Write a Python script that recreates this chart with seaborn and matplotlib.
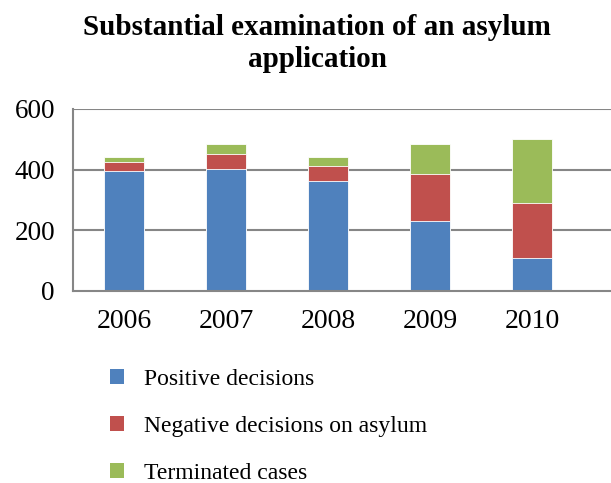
import numpy as np
import pandas as pd
import matplotlib
matplotlib.use("Agg")
import matplotlib.pyplot as plt
import seaborn as sns
from matplotlib.patches import Patch

years = ["2006", "2007", "2008", "2009", "2010"]
positive = [397, 402, 364, 232, 110]
negative = [28, 51, 48, 155, 180]
terminated = [17, 33, 30, 99, 210]

labels = ["Positive decisions", "Negative decisions on asylum", "Terminated cases"]
colors = ["#4F81BD", "#C0504D", "#9BBB59"]

sns.set_style("white")
plt.rcParams["font.family"] = ["Liberation Serif", "DejaVu Serif"]
plt.rcParams["text.color"] = "black"
plt.rcParams["xtick.labelcolor"] = "black"
plt.rcParams["ytick.labelcolor"] = "black"

df = pd.DataFrame({"year": years, "pos": positive, "neg": negative, "term": terminated})
df["pos_neg"] = df["pos"] + df["neg"]
df["total"] = df["pos_neg"] + df["term"]

fig = plt.figure(figsize=(6.11, 4.83), dpi=100)
ax = fig.add_axes([73 / 611, 1 - 291 / 483, (611 - 73) / 611, 182 / 483])

# stacked look: draw cumulative totals from the top down
for col, c in zip(["total", "pos_neg", "pos"], colors[::-1]):
    sns.barplot(data=df, x="year", y=col, color=c, width=0.4, ax=ax,
                edgecolor="white", linewidth=0.6, saturation=1)

grid_c = "#868686"
ax.set_ylim(0, 600)
ax.set_xlim(-0.5, (611 - 73) / 102 - 0.5)
ax.set_yticks([0, 200, 400, 600])
for y in [200, 400, 600]:
    ax.axhline(y, color=grid_c, lw=1.5, zorder=0)
ax.set_xlabel("")
ax.set_ylabel("")
for s in ["top", "right"]:
    ax.spines[s].set_visible(False)
for s in ["left", "bottom"]:
    ax.spines[s].set_color(grid_c)
    ax.spines[s].set_linewidth(1.5)

ax.set_xticks(np.arange(-0.5, 5, 1.0), minor=True)
ax.set_xticks(range(5))
ax.set_xticklabels(years, fontsize=20)
ax.tick_params(axis="x", which="major", length=0, pad=13)
ax.tick_params(axis="x", which="minor", length=7, width=1.5, color=grid_c, direction="out")
ax.tick_params(axis="y", length=7, width=1.5, color=grid_c, direction="out", labelsize=19.5, pad=6)

fig.text(0.519, 1 - 35 / 483, "Substantial examination of an asylum",
         fontsize=21, fontweight="bold", ha="center", va="baseline")
fig.text(0.519, 1 - 67 / 483, "application",
         fontsize=21, fontweight="bold", ha="center", va="baseline")

handles = [Patch(facecolor=c, edgecolor="none") for c in colors]
fig.legend(handles, labels, loc="upper left", bbox_to_anchor=(0.165, 0.255),
           frameon=False, fontsize=17, handlelength=0.6, handleheight=0.6,
           handletextpad=0.85, labelspacing=1.1, borderaxespad=0)

fig.savefig("out.png", dpi=100)
